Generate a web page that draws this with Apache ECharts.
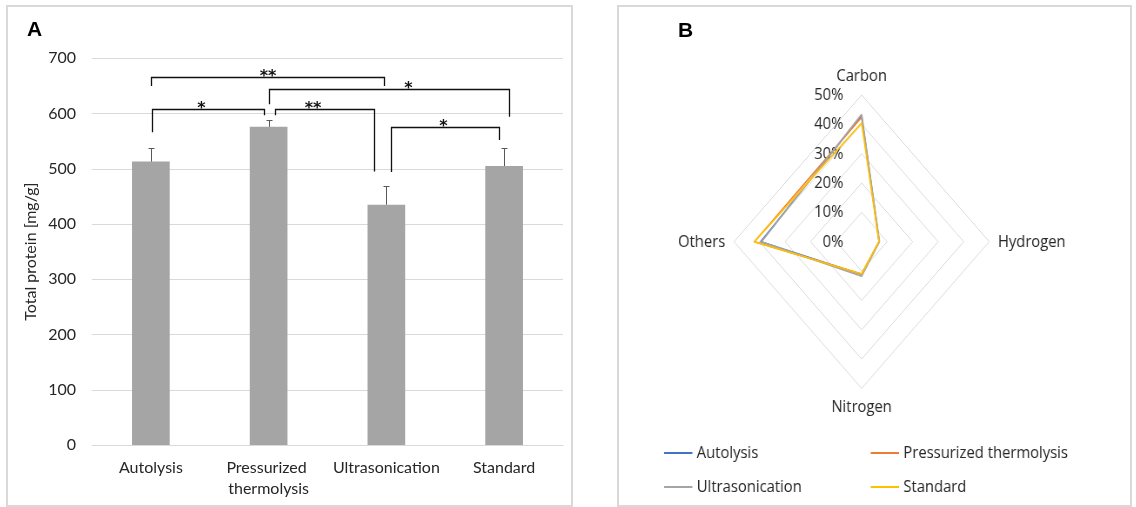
<!DOCTYPE html>
<html>
<head>
<meta charset="utf-8">
<script src="https://cdn.jsdelivr.net/npm/echarts@6/dist/echarts.min.js"></script>
<style>
  html, body { margin: 0; padding: 0; background: #fff; }
  #wrap { position: relative; width: 1136px; height: 507px; overflow: hidden; }
  #main { position: absolute; left: 0; top: 0; width: 1136px; height: 507px; }
  #radar { position: absolute; left: 618px; top: 0; width: 590px; height: 507px;
           transform: scaleX(0.87); transform-origin: 0 0; pointer-events: none; }
</style>
</head>
<body>
<div id="wrap"><div id="main"></div><div id="radar"></div></div>
<script>
// ---- Panel A: total protein per disruption method ----
const methods = ['Autolysis', 'Pressurized thermolysis', 'Ultrasonication', 'Standard'];
const proteinMean = [513, 576, 435, 505];
const proteinSD = [25, 12, 34, 33];
const proteinTicks = { min: 0, max: 700, step: 100 };

// significance brackets: compared methods, bar height and leg ends (mg/g)
const sigPairs = [[0, 2], [0, 1], [1, 2], [1, 3], [2, 3]];
const sigMarks = ['**', '*', '**', '*', '*'];
const sigTop = [666, 608, 608, 644, 576];
const sigLegEnds = [[650, 650], [566, 597], [597, 495], [617, 594], [494, 552]];

// ---- Panel B: elemental composition (%) ----
const elements = ['Carbon', 'Hydrogen', 'Nitrogen', 'Others'];
const compAutolysis = [43.0, 6.9, 11.2, 39.5];
const compPressurized = [42.4, 6.8, 11.0, 42.0];
const compUltrasonication = [43.4, 7.0, 11.8, 39.2];
const compStandard = [40.4, 6.8, 11.0, 42.0];
const compTicks = { min: 0, max: 50, splits: 5 };

// drawing style
const TXT = '#262626';
const GRID = '#D9D9D9';
const legShift = [[0, -2.5], [1, -5], [6.5, -12.5], [0, 5], [4.5, -5.5]];   // px nudges of bracket legs
const markShift = [0, -7, -12, 19, -2];                                      // px nudges of star labels

// ---------------- bar chart ----------------
const main = echarts.init(document.getElementById('main'), null, { renderer: 'canvas' });

function errorBar(params, api) {
  const i = api.value(0);
  const base = api.coord([i, api.value(1)]);
  const top = api.coord([i, api.value(1) + api.value(2)]);
  const x = Math.round(base[0]) + 0.5;
  const yt = Math.round(top[1]) + 0.5;
  return {
    type: 'group',
    children: [
      { type: 'line', shape: { x1: x, y1: base[1], x2: x, y2: yt }, style: { stroke: '#595959', lineWidth: 1 } },
      { type: 'line', shape: { x1: x - 3, y1: yt, x2: x + 3, y2: yt }, style: { stroke: '#595959', lineWidth: 1 } }
    ]
  };
}

function bracket(params, api) {
  const k = api.value(5);
  const a = api.coord([api.value(0), api.value(2)]);
  const b = api.coord([api.value(1), api.value(2)]);
  const la = api.coord([api.value(0), api.value(3)]);
  const lb = api.coord([api.value(1), api.value(4)]);
  const xl = Math.round(a[0] + legShift[k][0]) + 0.5;
  const xr = Math.round(b[0] + legShift[k][1]) + 0.5;
  const yt = Math.round(a[1]) + 0.5;
  return {
    type: 'group',
    children: [
      { type: 'polyline', shape: { points: [[xl, la[1]], [xl, yt], [xr, yt], [xr, lb[1]]] },
        style: { stroke: '#111', lineWidth: 1.3, fill: null } },
      { type: 'text', x: (xl + xr) / 2 + markShift[k], y: yt - 1,
        style: { text: sigMarks[k], textAlign: 'center', textVerticalAlign: 'middle',
                 font: 'bold 16px "DejaVu Sans"', fill: '#111' } }
    ]
  };
}

main.setOption({
  animation: false,
  backgroundColor: '#fff',
  textStyle: { fontFamily: 'Lato' },
  grid: { left: 92, right: 1136 - 563, top: 58.3, bottom: 507 - 445 },
  xAxis: {
    type: 'category',
    data: methods,
    axisLine: { lineStyle: { color: GRID, width: 1 } },
    axisTick: { show: false },
    axisLabel: { color: TXT, fontFamily: 'Lato', fontSize: 16, margin: 12, interval: 0,
                 width: 117, overflow: 'break', lineHeight: 21 }
  },
  yAxis: {
    type: 'value',
    min: proteinTicks.min, max: proteinTicks.max, interval: proteinTicks.step,
    name: 'Total protein [mg/g]', nameLocation: 'middle', nameGap: 53,
    nameTextStyle: { color: TXT, fontFamily: 'Lato', fontSize: 16 },
    axisLine: { show: false }, axisTick: { show: false },
    axisLabel: { color: TXT, fontFamily: 'Lato', fontSize: 16, margin: 16 },
    splitLine: { lineStyle: { color: GRID, width: 1 } }
  },
  series: [
    { type: 'bar', data: proteinMean, barWidth: '32%', itemStyle: { color: '#A5A5A5' }, z: 2 },
    { type: 'custom', renderItem: errorBar, z: 3,
      dimensions: ['x', 'mean', 'sd'], encode: { x: 'x', y: 'mean' },
      data: methods.map((m, i) => [i, proteinMean[i], proteinSD[i]]) },
    { type: 'custom', renderItem: bracket, z: 4, clip: false,
      dimensions: ['from', 'to', 'top', 'legL', 'legR', 'k'], encode: { x: 'from', y: 'top' },
      data: sigPairs.map((p, k) => [p[0], p[1], sigTop[k], sigLegEnds[k][0], sigLegEnds[k][1], k]) }
  ],
  graphic: [
    { type: 'rect', shape: { x: 7, y: 6, width: 565, height: 500 }, style: { stroke: GRID, lineWidth: 2, fill: null }, silent: true },
    { type: 'rect', shape: { x: 618, y: 6, width: 513, height: 500 }, style: { stroke: GRID, lineWidth: 2, fill: null }, silent: true },
    { type: 'text', x: 27, y: 30, style: { text: 'A', font: 'bold 21px "Liberation Sans"', fill: '#000', textVerticalAlign: 'middle' } },
    { type: 'text', x: 678, y: 31, style: { text: 'B', font: 'bold 21px "Liberation Sans"', fill: '#000', textVerticalAlign: 'middle' } }
  ]
});

// ---------------- radar chart ----------------
// ECharts lays radar axes out counter-clockwise; this order puts the
// elements clockwise from the top: Carbon, Hydrogen, Nitrogen, Others.
const axisOrder = [0, 3, 2, 1];
const radar = echarts.init(document.getElementById('radar'), null, { renderer: 'canvas' });
const compSeries = [
  ['Autolysis', compAutolysis, '#4472C4'],
  ['Pressurized thermolysis', compPressurized, '#ED7D31'],
  ['Ultrasonication', compUltrasonication, '#A5A5A5'],
  ['Standard', compStandard, '#FFC000']
];
const legendBase = {
  orient: 'vertical', top: 438, icon: 'rect', itemWidth: 32.5, itemHeight: 2, itemGap: 14,
  textStyle: { color: TXT, fontFamily: 'Open Sans', fontSize: 17, lineHeight: 20 }
};

radar.setOption({
  animation: false,
  textStyle: { fontFamily: 'Open Sans' },
  legend: [
    Object.assign({ left: 48, data: ['Autolysis', 'Ultrasonication'] }, legendBase),
    Object.assign({ left: 285.5, data: ['Pressurized thermolysis', 'Standard'] }, legendBase)
  ],
  radar: {
    center: [280, 241.7],
    radius: 146.7,
    startAngle: 90,
    shape: 'polygon',
    splitNumber: compTicks.splits,
    indicator: axisOrder.map((j, i) => {
      const ind = { name: elements[j], min: compTicks.min, max: compTicks.max };
      if (i === 0) ind.axisLabel = { show: true };
      return ind;
    }),
    axisName: { color: TXT, fontFamily: 'Open Sans', fontSize: 17 },
    nameGap: 10,
    splitLine: { lineStyle: { color: GRID, width: 1 } },
    splitArea: { show: false },
    axisLine: { show: false },
    axisTick: { show: false },
    axisLabel: { show: false, formatter: '{value}%', color: TXT, fontFamily: 'Open Sans', fontSize: 17, margin: 21 }
  },
  series: compSeries.map(([name, vals, color]) => ({
    type: 'radar',
    name: name,
    symbol: 'none',
    lineStyle: { color: color, width: 1.6 },
    itemStyle: { color: color },
    data: [{ name: name, value: axisOrder.map(j => vals[j]) }]
  }))
});
</script>
</body>
</html>
